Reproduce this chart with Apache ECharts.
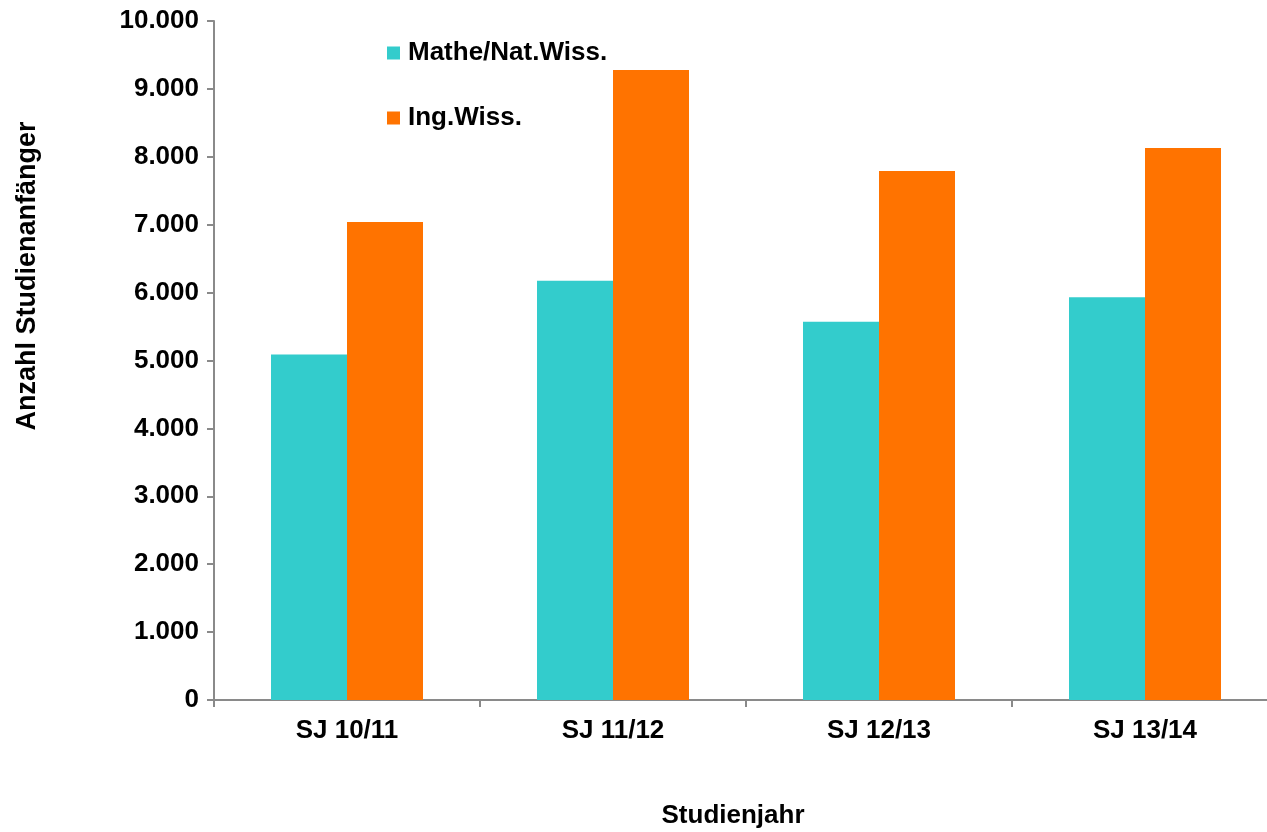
<!DOCTYPE html>
<html>
<head>
<meta charset="utf-8">
<title>Studienanfänger nach Studienjahr</title>
<script src="https://cdn.jsdelivr.net/npm/echarts@6/dist/echarts.min.js"></script>
<style>
  html, body { margin: 0; padding: 0; background: #ffffff; overflow: hidden; }
  /* the plot runs a little past the right window edge */
  #chart { width: 1278px; height: 832px; }
</style>
</head>
<body>
<div id="chart"></div>
<script>
// Studienjahre (categories)
const categories = ['SJ 10/11', 'SJ 11/12', 'SJ 12/13', 'SJ 13/14'];
// Studienanfänger je Fächergruppe
const matheNatWiss = [5090, 6175, 5570, 5930];
const ingWiss = [7040, 9280, 7790, 8130];
const seriesNames = ['Mathe/Nat.Wiss.', 'Ing.Wiss.'];
const yTicks = { min: 0, max: 10000, interval: 1000 };

const FONT = '"Liberation Sans", Arial, sans-serif';
const axisGray = '#8a8a8a';

const chart = echarts.init(document.getElementById('chart'), null, { renderer: 'canvas' });

function formatThousands(v) {
  return String(v).replace(/\B(?=(\d{3})+(?!\d))/g, '.');
}

chart.setOption({
  animation: false,
  backgroundColor: '#ffffff',
  textStyle: { fontFamily: FONT },
  grid: { left: 214, top: 21, right: 0, bottom: 132, containLabel: false },
  legend: {
    orient: 'vertical',
    left: 387,
    top: 40,
    padding: 0,
    itemWidth: 13,
    itemHeight: 13,
    itemGap: 39,
    icon: 'rect',
    textStyle: { fontFamily: FONT, fontSize: 26, fontWeight: 'bold', color: '#000', padding: [0, 0, 0, 3] },
    data: seriesNames
  },
  xAxis: {
    type: 'category',
    data: categories,
    axisLine: { lineStyle: { color: axisGray, width: 2 } },
    axisTick: { show: true, length: 7, lineStyle: { color: axisGray, width: 2 } },
    axisLabel: { color: '#000', fontFamily: FONT, fontSize: 26, fontWeight: 'bold', margin: 18 },
    splitLine: { show: false }
  },
  yAxis: {
    type: 'value',
    min: yTicks.min,
    max: yTicks.max,
    interval: yTicks.interval,
    axisLine: { show: true, lineStyle: { color: axisGray, width: 2 } },
    axisTick: { show: true, length: 7, lineStyle: { color: axisGray, width: 2 } },
    axisLabel: { color: '#000', fontFamily: FONT, fontSize: 26, fontWeight: 'bold', margin: 15, formatter: formatThousands },
    splitLine: { show: false }
  },
  graphic: [
    {
      type: 'text',
      rotation: Math.PI / 2,
      x: 28,
      y: 276,
      style: {
        text: 'Anzahl Studienanfänger',
        fontFamily: FONT, fontSize: 27, fontWeight: 'bold', fill: '#000',
        align: 'center', verticalAlign: 'middle'
      }
    },
    {
      type: 'text',
      x: 733,
      y: 816,
      style: {
        text: 'Studienjahr',
        fontFamily: FONT, fontSize: 26, fontWeight: 'bold', fill: '#000',
        align: 'center', verticalAlign: 'middle'
      }
    }
  ],
  series: [
    {
      name: seriesNames[0],
      type: 'bar',
      data: matheNatWiss,
      barWidth: 76,
      barGap: '0%',
      itemStyle: { color: '#33CCCC' }
    },
    {
      name: seriesNames[1],
      type: 'bar',
      data: ingWiss,
      barWidth: 76,
      barGap: '0%',
      itemStyle: { color: '#FF7300' }
    }
  ]
});
</script>
</body>
</html>
